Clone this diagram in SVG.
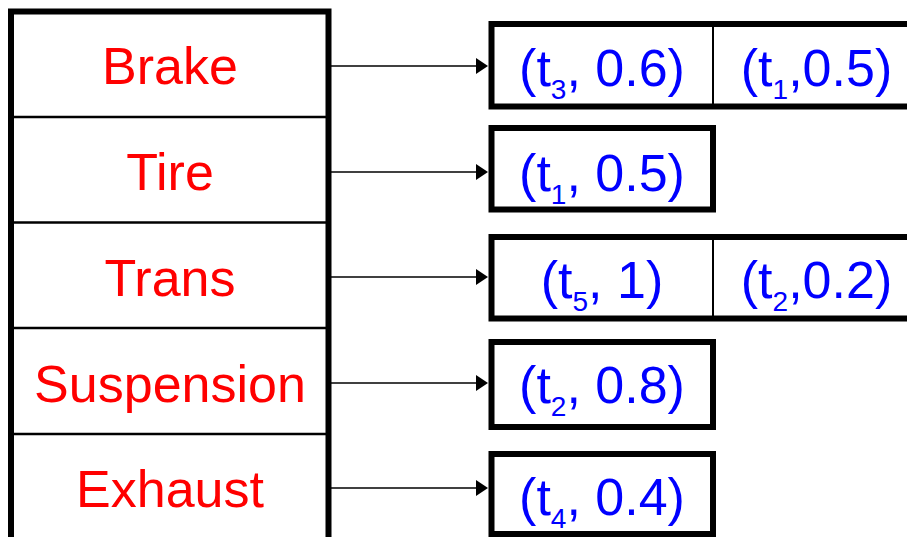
<svg xmlns="http://www.w3.org/2000/svg" width="907" height="537" viewBox="0 0 907 537">
  <style>
    .key { font-family: "Liberation Sans", Arial, sans-serif; font-size: 52px; fill: #ff0000; text-anchor: middle; }
    .val { font-family: "Liberation Sans", Arial, sans-serif; font-size: 52px; fill: #0000ff; text-anchor: middle; }
    .sub { font-size: 28px; }
    .frame { fill: none; stroke: #000; stroke-width: 6; }
    .row { stroke: #000; stroke-width: 2.5; }
    .cell { fill: #fff; stroke: #000; stroke-width: 6; }
    .split { stroke: #000; stroke-width: 2; }
    .link { stroke: #000; stroke-width: 1.6; fill: none; marker-end: url(#head); }
  </style>
  <defs>
    <marker id="head" markerUnits="userSpaceOnUse" markerWidth="13" markerHeight="17" refX="0" refY="8" orient="auto">
      <path d="M0,0 L12,8 L0,16 Z" fill="#000"/>
    </marker>
  </defs>
  <rect width="907" height="537" fill="#fff"/>

  <!-- term table -->
  <g id="table">
    <path class="frame" d="M11,545 V11.5 H328.5 V545"/>
    <line class="row" x1="11" y1="117" x2="328.5" y2="117"/>
    <line class="row" x1="11" y1="222.5" x2="328.5" y2="222.5"/>
    <line class="row" x1="11" y1="328" x2="328.5" y2="328"/>
    <line class="row" x1="11" y1="434" x2="328.5" y2="434"/>
  </g>
  <g id="term-brake"><text class="key" x="170" y="84">Brake</text></g>
  <g id="term-tire"><text class="key" x="170" y="190">Tire</text></g>
  <g id="term-trans"><text class="key" x="170" y="296">Trans</text></g>
  <g id="term-suspension"><text class="key" x="170" y="402">Suspension</text></g>
  <g id="term-exhaust"><text class="key" x="170" y="507">Exhaust</text></g>

  <!-- pointers from terms to posting lists -->
  <g id="connectors">
    <line class="link" x1="331" y1="66" x2="476" y2="66"/>
    <line class="link" x1="331" y1="172" x2="476" y2="172"/>
    <line class="link" x1="331" y1="277" x2="476" y2="277"/>
    <line class="link" x1="331" y1="383" x2="476" y2="383"/>
    <line class="link" x1="331" y1="488" x2="476" y2="488"/>
  </g>

  <!-- posting lists -->
  <g id="list-brake">
    <rect class="cell" x="491.5" y="24" width="440" height="82.5"/>
    <line class="split" x1="713" y1="24" x2="713" y2="106.5"/>
    <text class="val" x="602" y="86">(t<tspan class="sub" dy="13">3</tspan><tspan dy="-13">, 0.6)</tspan></text>
    <text class="val" x="816.5" y="86">(t<tspan class="sub" dy="13">1</tspan><tspan dy="-13">,0.5)</tspan></text>
  </g>
  <g id="list-tire">
    <rect class="cell" x="491.5" y="128" width="221.5" height="81.5"/>
    <text class="val" x="602" y="191">(t<tspan class="sub" dy="13">1</tspan><tspan dy="-13">, 0.5)</tspan></text>
  </g>
  <g id="list-trans">
    <rect class="cell" x="491.5" y="237" width="440" height="81.5"/>
    <line class="split" x1="713" y1="237" x2="713" y2="318.5"/>
    <text class="val" x="602" y="298">(t<tspan class="sub" dy="13">5</tspan><tspan dy="-13">, 1)</tspan></text>
    <text class="val" x="816.5" y="298">(t<tspan class="sub" dy="13">2</tspan><tspan dy="-13">,0.2)</tspan></text>
  </g>
  <g id="list-suspension">
    <rect class="cell" x="491.5" y="342" width="221.5" height="85"/>
    <text class="val" x="602" y="403">(t<tspan class="sub" dy="13">2</tspan><tspan dy="-13">, 0.8)</tspan></text>
  </g>
  <g id="list-exhaust">
    <rect class="cell" x="491.5" y="454" width="221.5" height="80"/>
    <text class="val" x="602" y="515">(t<tspan class="sub" dy="13">4</tspan><tspan dy="-13">, 0.4)</tspan></text>
  </g>
</svg>
